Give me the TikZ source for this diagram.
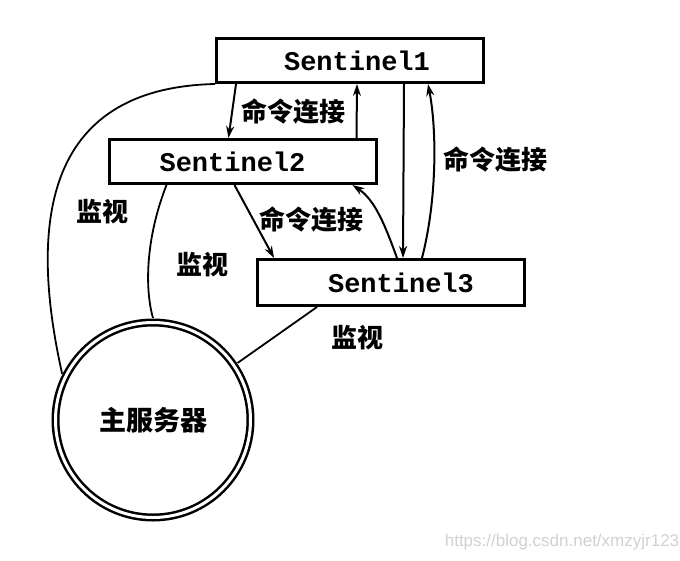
\documentclass[tikz,border=0pt]{standalone}
\usepackage{fontspec}
\setmonofont{Liberation Mono}
\newfontfamily\cjk{Noto Sans CJK SC}
\newfontfamily\wmfont{Liberation Sans}
\usetikzlibrary{arrows.meta,calc}
\begin{document}
\begin{tikzpicture}[x=1pt,y=-1pt,
  sbox/.style={draw,line width=3pt,minimum width=267pt,minimum height=44pt,inner sep=0pt,
    font=\fontsize{27}{30}\selectfont\ttfamily\bfseries},
  lab/.style={font=\fontsize{26}{28}\selectfont\cjk\bfseries,inner sep=0pt},
  master/.style={circle,draw,line width=2.5pt,double,double distance=3pt,minimum size=195pt,
    outer sep=4.5pt,inner sep=0pt,font=\fontsize{27}{30}\selectfont\cjk\bfseries},
  cmd/.style={line width=2pt,-{Stealth[length=12pt,width=8pt]}},
  mon/.style={line width=1.8pt}]
\useasboundingbox (0,0) rectangle (680,560);
\fill[white] (0,0) rectangle (680,560);

\node[sbox] (s1) at (350,60.5) {\hspace*{14pt}Sentinel1};
\node[sbox] (s2) at (242.5,161.5) {Sentinel2\hspace*{20pt}};
\node[sbox,minimum height=46pt] (s3) at (391,282.5) {\hspace*{20pt}Sentinel3};
\node[master] (m) at (153,420) {主服务器};

\node[lab] (l1) at (293,112) {命令连接};
\node[lab] (l2) at (495,160) {命令连接};
\node[lab] (l3) at (311,220) {命令连接};
\node[lab] (w1) at (102,212) {监视};
\node[lab] (w2) at (202,265) {监视};
\node[lab] (w3) at (357,338) {监视};
\node[font=\fontsize{17}{19}\selectfont\wmfont,text=black!18,inner sep=0pt] (wm) at (562,542) {https://blog.csdn.net/xmzyjr123};

% command connections
\draw[cmd] ([xshift=21pt]s1.south west) -- ([xshift=121pt]s2.north west);
\draw[cmd] ([xshift=249pt]s2.north west) -- ([xshift=142pt]s1.south west);
\draw[cmd] ([xshift=189pt]s1.south west) -- ([xshift=147pt]s3.north west);
\draw[cmd] ([xshift=166pt]s3.north west) .. controls (437,200) and (437,130) .. ([xshift=213pt]s1.south west);
\draw[cmd] ([xshift=127pt]s2.south west) -- ([xshift=18pt]s3.north west);
\draw[cmd] ([xshift=141pt]s3.north west) .. controls (385,225) and (375,200) .. ([xshift=245pt]s2.south west);

% monitoring
\draw[mon] (s1.south west) .. controls (40,88) and (30,230) .. (m.153);
\draw[mon] ([xshift=59pt]s2.south west) .. controls (145,240) and (145,290) .. (m.90);
\draw[mon] ([xshift=61pt]s3.south west) -- (m.34);
\end{tikzpicture}
\end{document}
